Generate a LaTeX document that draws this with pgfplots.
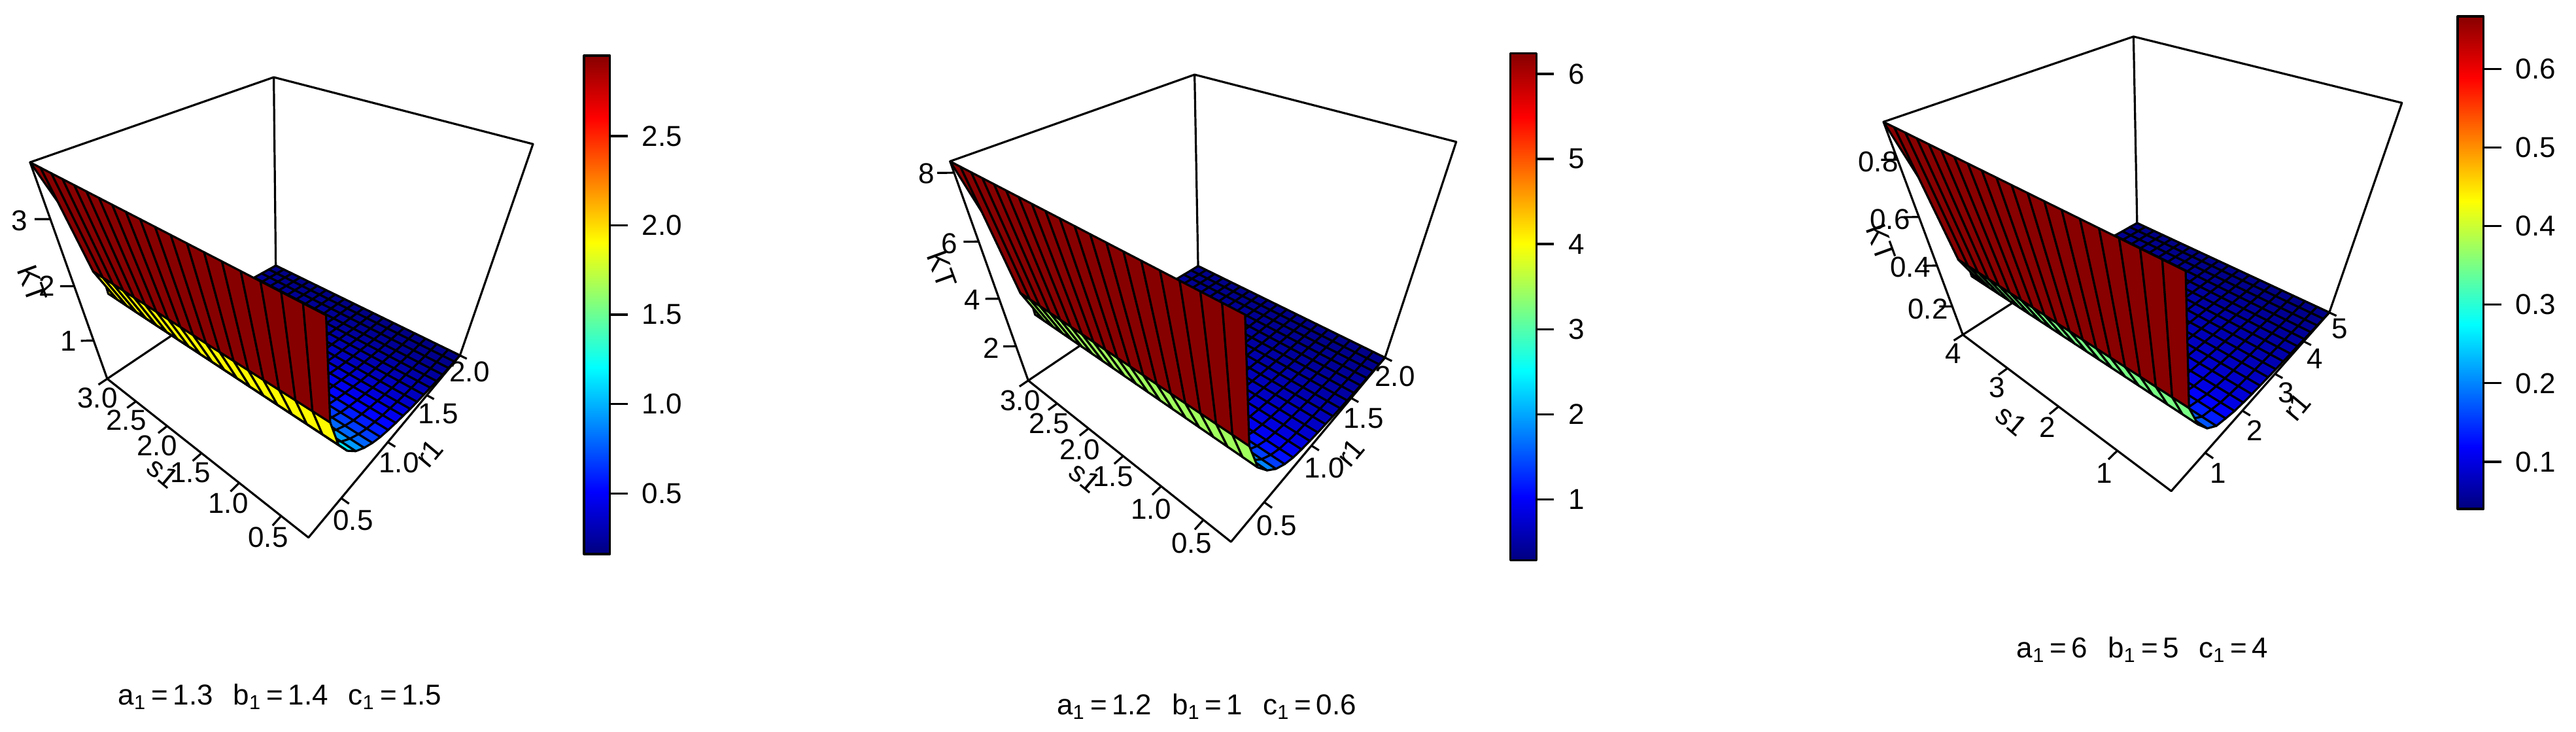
\documentclass[border=0pt]{standalone}
\usepackage{fontspec}
\setmainfont{Liberation Sans}
\usepackage{pgfplots}
\usepackage{pgfplotstable}
\pgfplotsset{compat=1.18}

% canvas is in reference pixels, 1 px = .25pt
% surface colormaps run on past the colour bar top, so the tall wall stays dark red
\pgfplotsset{
  colormap={jetr}{rgb255=(0,0,127) rgb255=(0,0,255) rgb255=(0,127,255) rgb255=(0,255,255)
    rgb255=(127,255,127) rgb255=(255,255,0) rgb255=(255,127,0) rgb255=(255,0,0) rgb255=(135,0,0)},
  colormap={jeta}{rgb255(0pt)=(0,0,127) rgb255(99pt)=(0,0,255) rgb255(197pt)=(0,127,255) rgb255(296pt)=(0,255,255)
    rgb255(394pt)=(127,255,127) rgb255(493pt)=(255,255,0) rgb255(591pt)=(255,127,0) rgb255(690pt)=(255,0,0) rgb255(788pt)=(135,0,0) rgb255(1000pt)=(135,0,0)},
  colormap={jetb}{rgb255(0pt)=(0,0,127) rgb255(93pt)=(0,0,255) rgb255(186pt)=(0,127,255) rgb255(278pt)=(0,255,255)
    rgb255(371pt)=(127,255,127) rgb255(464pt)=(255,255,0) rgb255(557pt)=(255,127,0) rgb255(650pt)=(255,0,0) rgb255(742pt)=(135,0,0) rgb255(1000pt)=(135,0,0)},
  colormap={jetc}{rgb255(0pt)=(0,0,127) rgb255(90pt)=(0,0,255) rgb255(179pt)=(0,127,255) rgb255(269pt)=(0,255,255)
    rgb255(358pt)=(127,255,127) rgb255(448pt)=(255,255,0) rgb255(537pt)=(255,127,0) rgb255(627pt)=(255,0,0) rgb255(717pt)=(135,0,0) rgb255(1000pt)=(135,0,0)},
  panel/.style={at={(0,0)},anchor=south west,scale only axis,width=984.75pt,height=279.5pt,
    xmin=0,xmax=3939,ymin=0,ymax=1118,y dir=reverse,hide axis,clip=false,
    unbounded coords=jump},
  wire/.style={surf,shader=faceted,faceted color=black,line width=.8pt,mesh/rows=20,mesh/cols=20,line join=round},
  bar/.style={anchor=south west,scale only axis,xmin=0,xmax=1,xtick=\empty,ytick pos=right,
    tick align=outside,major tick length=6.75pt,axis line style={line width=.8pt},
    tick style={line width=.8pt,black},colormap name=jetr,axis on top,clip=true,
    tick label style={font=\lbl},
    yticklabel style={/pgf/number format/assume math mode=true,xshift=2pt}},
}
\newcommand\lbl{\fontsize{11}{13}\selectfont}
\tikzset{lab/.style={font=\lbl,inner sep=0pt,anchor=center}}
\newcommand\lab[3]{\node[lab] at (axis cs:#1,#2) {#3};}
\newcommand\rot[4]{\node[lab,rotate=#3] at (axis cs:#1,#2) {#4};}
\newcommand\Uc{(1-mod(\coordindex,20)/19)}
\newcommand\Vc{(1-floor(\coordindex/20)/19)}
\newcommand\capt[3]{a\textsubscript{1}\,=\,#1\hspace{.7em}b\textsubscript{1}\,=\,#2\hspace{.7em}c\textsubscript{1}\,=\,#3}

% box edges in box units
\pgfplotstableread{
u v w
0 1 0
0 1 1
1 1 1
1 0 1
1 0 0
0 0 0
0 1 0
1 1 0
1 0 0
nan nan nan
1 1 1
1 1 0
}\boxedges

\begin{document}
\begin{tikzpicture}[line join=round,
  declare function={
    ax(\u,\v,\w)=(471.7-256.81*\u+496.5*\v-173.07*\w)/(1+.31031*\u+.37666*\v-.40104*\w);
    ay(\u,\v,\w)=(821.7-63.03*\u-73.76*\v-533.1*\w)/(1+.31031*\u+.37666*\v-.40104*\w);
    bx(\u,\v,\w)=1500+(382.3-287.35*\u+463.84*\v-138.35*\w)/(1+.31328*\u+.36983*\v-.39585*\w);
    by(\u,\v,\w)=(828.3-64.37*\u-79.4*\v-537.7*\w)/(1+.31328*\u+.36983*\v-.39585*\w);
    cx(\u,\v,\w)=2800+(520-256.69*\u+518.73*\v-189.96*\w)/(1+.30804*\u+.3637*\v-.39112*\w);
    cy(\u,\v,\w)=(750.7-81.38*\u-99.26*\v-498.5*\w)/(1+.30804*\u+.3637*\v-.39112*\w);
  }]
\useasboundingbox (0,0) rectangle (984.75pt,279.5pt);

% ---- panel 1
\begin{axis}[panel,colormap name=jeta,point meta min=.16,point meta max=3.7]
\addplot[black,line width=.8pt] table[x expr={ax(\thisrow{u},\thisrow{v},\thisrow{w})},y expr={ay(\thisrow{u},\thisrow{v},\thisrow{w})}] \boxedges;
\addplot[wire,point meta=\thisrow{z}] table[x expr={ax(\Uc,\Vc,(\thisrow{z}-.17)/3.53)},y expr={ay(\Uc,\Vc,(\thisrow{z}-.17)/3.53)}] {
z
0.17
0.17
0.17
0.17
0.17
0.17
0.17
0.17
0.17
0.17
0.17
0.17
0.17
0.17
0.17
0.17
0.17
0.17
0.17
0.17
0.19
0.19
0.19
0.19
0.19
0.19
0.19
0.19
0.19
0.19
0.19
0.19
0.19
0.19
0.19
0.19
0.19
0.19
0.19
0.19
0.21
0.21
0.21
0.21
0.21
0.21
0.21
0.21
0.21
0.21
0.21
0.21
0.21
0.21
0.21
0.21
0.21
0.21
0.21
0.21
0.23
0.23
0.23
0.23
0.23
0.23
0.23
0.23
0.23
0.23
0.23
0.23
0.23
0.23
0.23
0.23
0.23
0.23
0.23
0.23
0.26
0.26
0.26
0.26
0.26
0.26
0.26
0.26
0.26
0.26
0.26
0.26
0.26
0.26
0.26
0.26
0.26
0.26
0.26
0.26
0.29
0.29
0.29
0.29
0.29
0.29
0.29
0.29
0.29
0.29
0.29
0.29
0.29
0.29
0.29
0.29
0.29
0.29
0.29
0.29
0.32
0.32
0.32
0.32
0.32
0.32
0.32
0.32
0.32
0.32
0.32
0.32
0.32
0.32
0.32
0.32
0.32
0.32
0.32
0.32
0.35
0.35
0.35
0.35
0.35
0.35
0.35
0.35
0.35
0.35
0.35
0.35
0.35
0.35
0.35
0.35
0.35
0.35
0.35
0.35
0.39
0.39
0.39
0.39
0.39
0.39
0.39
0.39
0.39
0.39
0.39
0.39
0.39
0.39
0.39
0.39
0.39
0.39
0.39
0.39
0.44
0.44
0.44
0.44
0.44
0.44
0.44
0.44
0.44
0.44
0.44
0.44
0.44
0.44
0.44
0.44
0.44
0.44
0.44
0.44
0.49
0.49
0.49
0.49
0.49
0.49
0.49
0.49
0.49
0.49
0.49
0.49
0.49
0.49
0.49
0.49
0.49
0.49
0.49
0.49
0.55
0.55
0.55
0.55
0.55
0.55
0.55
0.55
0.55
0.55
0.55
0.55
0.55
0.55
0.55
0.55
0.55
0.55
0.55
0.55
0.62
0.62
0.62
0.62
0.62
0.62
0.62
0.62
0.62
0.62
0.62
0.62
0.62
0.62
0.62
0.62
0.62
0.62
0.62
0.62
0.72
0.72
0.72
0.72
0.72
0.72
0.72
0.72
0.72
0.72
0.72
0.72
0.72
0.72
0.72
0.72
0.72
0.72
0.72
0.72
0.85
0.85
0.85
0.85
0.85
0.85
0.85
0.85
0.85
0.85
0.85
0.85
0.85
0.85
0.85
0.85
0.85
0.85
0.85
0.85
1.02
1.02
1.02
1.02
1.02
1.02
1.02
1.02
1.02
1.02
1.02
1.02
1.02
1.02
1.02
1.02
1.02
1.02
1.02
1.02
1.27
1.27
1.27
1.27
1.27
1.27
1.27
1.27
1.27
1.27
1.27
1.27
1.27
1.27
1.27
1.27
1.27
1.27
1.27
1.27
1.62
1.62
1.62
1.62
1.62
1.62
1.62
1.62
1.62
1.62
1.62
1.62
1.62
1.62
1.62
1.62
1.62
1.62
1.62
1.62
2.22
2.22
2.22
2.22
2.22
2.22
2.22
2.22
2.22
2.22
2.22
2.22
2.22
2.22
2.22
2.22
2.22
2.22
2.22
2.22
3.70
3.70
3.70
3.70
3.70
3.70
3.70
3.70
3.70
3.70
3.70
3.70
3.70
3.70
3.70
3.70
3.70
3.70
3.70
3.70
};
\addplot[black,line width=.8pt] table[row sep=\\,x expr={ax(\thisrow{u},\thisrow{v},\thisrow{w})},y expr={ay(\thisrow{u},\thisrow{v},\thisrow{w})}] {
u v w\\
.107 0 0\\.107 -.04 0\\nan nan nan\\.286 0 0\\.286 -.04 0\\nan nan nan\\.464 0 0\\.464 -.04 0\\nan nan nan\\.643 0 0\\.643 -.04 0\\nan nan nan\\.821 0 0\\.821 -.04 0\\nan nan nan\\1 0 0\\1 -.04 0\\nan nan nan\\
0 .167 0\\-.03 .167 0\\nan nan nan\\0 .444 0\\-.03 .444 0\\nan nan nan\\0 .722 0\\-.03 .722 0\\nan nan nan\\0 1 0\\-.03 1 0\\nan nan nan\\
1 0 .2355\\1.035 -.03 .2355\\nan nan nan\\1 0 .5187\\1.035 -.03 .5187\\nan nan nan\\1 0 .802\\1.035 -.03 .802\\
};
\lab{30}{337}{3}\lab{72}{437}{2}\lab{105}{521}{1}
\lab{149}{608}{3.0}\lab{193}{642}{2.5}\lab{240}{681}{2.0}\lab{291}{723}{1.5}\lab{349}{769}{1.0}\lab{410}{821}{0.5}
\lab{540}{795}{0.5}\lab{610}{707}{1.0}\lab{670}{633}{1.5}\lab{718}{568}{2.0}
\rot{49}{434}{-70}{KT}\rot{249}{723}{-40}{s1}\rot{656}{693}{50}{r1}
\lab{428}{1065}{\capt{1.3}{1.4}{1.5}}
\end{axis}

% ---- panel 2
\begin{axis}[panel,colormap name=jetb,point meta min=.28,point meta max=8.31]
\addplot[black,line width=.8pt] table[x expr={bx(\thisrow{u},\thisrow{v},\thisrow{w})},y expr={by(\thisrow{u},\thisrow{v},\thisrow{w})}] \boxedges;
\addplot[wire,point meta=\thisrow{z}] table[x expr={bx(\Uc,\Vc,(\thisrow{z}-.325)/7.985)},y expr={by(\Uc,\Vc,(\thisrow{z}-.325)/7.985)}] {
z
0.325
0.325
0.325
0.325
0.325
0.325
0.325
0.325
0.325
0.325
0.325
0.325
0.325
0.325
0.325
0.325
0.325
0.325
0.325
0.325
0.35
0.35
0.35
0.35
0.35
0.35
0.35
0.35
0.35
0.35
0.35
0.35
0.35
0.35
0.35
0.35
0.35
0.35
0.35
0.35
0.38
0.38
0.38
0.38
0.38
0.38
0.38
0.38
0.38
0.38
0.38
0.38
0.38
0.38
0.38
0.38
0.38
0.38
0.38
0.38
0.41
0.41
0.41
0.41
0.41
0.41
0.41
0.41
0.41
0.41
0.41
0.41
0.41
0.41
0.41
0.41
0.41
0.41
0.41
0.41
0.44
0.44
0.44
0.44
0.44
0.44
0.44
0.44
0.44
0.44
0.44
0.44
0.44
0.44
0.44
0.44
0.44
0.44
0.44
0.44
0.47
0.47
0.47
0.47
0.47
0.47
0.47
0.47
0.47
0.47
0.47
0.47
0.47
0.47
0.47
0.47
0.47
0.47
0.47
0.47
0.51
0.51
0.51
0.51
0.51
0.51
0.51
0.51
0.51
0.51
0.51
0.51
0.51
0.51
0.51
0.51
0.51
0.51
0.51
0.51
0.55
0.55
0.55
0.55
0.55
0.55
0.55
0.55
0.55
0.55
0.55
0.55
0.55
0.55
0.55
0.55
0.55
0.55
0.55
0.55
0.60
0.60
0.60
0.60
0.60
0.60
0.60
0.60
0.60
0.60
0.60
0.60
0.60
0.60
0.60
0.60
0.60
0.60
0.60
0.60
0.66
0.66
0.66
0.66
0.66
0.66
0.66
0.66
0.66
0.66
0.66
0.66
0.66
0.66
0.66
0.66
0.66
0.66
0.66
0.66
0.72
0.72
0.72
0.72
0.72
0.72
0.72
0.72
0.72
0.72
0.72
0.72
0.72
0.72
0.72
0.72
0.72
0.72
0.72
0.72
0.79
0.79
0.79
0.79
0.79
0.79
0.79
0.79
0.79
0.79
0.79
0.79
0.79
0.79
0.79
0.79
0.79
0.79
0.79
0.79
0.88
0.88
0.88
0.88
0.88
0.88
0.88
0.88
0.88
0.88
0.88
0.88
0.88
0.88
0.88
0.88
0.88
0.88
0.88
0.88
1.00
1.00
1.00
1.00
1.00
1.00
1.00
1.00
1.00
1.00
1.00
1.00
1.00
1.00
1.00
1.00
1.00
1.00
1.00
1.00
1.22
1.22
1.22
1.22
1.22
1.22
1.22
1.22
1.22
1.22
1.22
1.22
1.22
1.22
1.22
1.22
1.22
1.22
1.22
1.22
1.55
1.55
1.55
1.55
1.55
1.55
1.55
1.55
1.55
1.55
1.55
1.55
1.55
1.55
1.55
1.55
1.55
1.55
1.55
1.55
2.05
2.05
2.05
2.05
2.05
2.05
2.05
2.05
2.05
2.05
2.05
2.05
2.05
2.05
2.05
2.05
2.05
2.05
2.05
2.05
2.75
2.75
2.75
2.75
2.75
2.75
2.75
2.75
2.75
2.75
2.75
2.75
2.75
2.75
2.75
2.75
2.75
2.75
2.75
2.75
4.17
4.17
4.17
4.17
4.17
4.17
4.17
4.17
4.17
4.17
4.17
4.17
4.17
4.17
4.17
4.17
4.17
4.17
4.17
4.17
8.31
8.31
8.31
8.31
8.31
8.31
8.31
8.31
8.31
8.31
8.31
8.31
8.31
8.31
8.31
8.31
8.31
8.31
8.31
8.31
};
\addplot[black,line width=.8pt] table[row sep=\\,x expr={bx(\thisrow{u},\thisrow{v},\thisrow{w})},y expr={by(\thisrow{u},\thisrow{v},\thisrow{w})}] {
u v w\\
.107 0 0\\.107 -.04 0\\nan nan nan\\.286 0 0\\.286 -.04 0\\nan nan nan\\.464 0 0\\.464 -.04 0\\nan nan nan\\.643 0 0\\.643 -.04 0\\nan nan nan\\.821 0 0\\.821 -.04 0\\nan nan nan\\1 0 0\\1 -.04 0\\nan nan nan\\
0 .167 0\\-.03 .167 0\\nan nan nan\\0 .444 0\\-.03 .444 0\\nan nan nan\\0 .722 0\\-.03 .722 0\\nan nan nan\\0 1 0\\-.03 1 0\\nan nan nan\\
1 0 .2097\\1.035 -.03 .2097\\nan nan nan\\1 0 .46\\1.035 -.03 .46\\nan nan nan\\1 0 .7125\\1.035 -.03 .7125\\nan nan nan\\1 0 .963\\1.035 -.03 .963\\
};
\lab{1417}{265}{8}\lab{1452}{372}{6}\lab{1487}{458}{4}\lab{1516}{532}{2}
\lab{1560}{612}{3.0}\lab{1604}{647}{2.5}\lab{1651}{687}{2.0}\lab{1702}{729}{1.5}\lab{1760}{778}{1.0}\lab{1822}{830}{0.5}
\lab{1952}{803}{0.5}\lab{2025}{715}{1.0}\lab{2085}{640}{1.5}\lab{2133}{575}{2.0}
\rot{1440}{412}{-70}{KT}\rot{1659}{730}{-40}{s1}\rot{2065}{692}{50}{r1}
\lab{1845}{1080}{\capt{1.2}{1}{0.6}}
\end{axis}

% ---- panel 3
\begin{axis}[panel,colormap name=jetc,point meta min=.04,point meta max=.915]
\addplot[black,line width=.8pt] table[x expr={cx(\thisrow{u},\thisrow{v},\thisrow{w})},y expr={cy(\thisrow{u},\thisrow{v},\thisrow{w})}] \boxedges;
\addplot[wire,point meta=\thisrow{z}] table[x expr={cx(\Uc,\Vc,(\thisrow{z}-.043)/.872)},y expr={cy(\Uc,\Vc,(\thisrow{z}-.043)/.872)}] {
z
0.043
0.043
0.043
0.043
0.043
0.043
0.043
0.043
0.043
0.043
0.043
0.043
0.043
0.043
0.043
0.043
0.043
0.043
0.043
0.043
0.047
0.047
0.047
0.047
0.047
0.047
0.047
0.047
0.047
0.047
0.047
0.047
0.047
0.047
0.047
0.047
0.047
0.047
0.047
0.047
0.050
0.050
0.050
0.050
0.050
0.050
0.050
0.050
0.050
0.050
0.050
0.050
0.050
0.050
0.050
0.050
0.050
0.050
0.050
0.050
0.054
0.054
0.054
0.054
0.054
0.054
0.054
0.054
0.054
0.054
0.054
0.054
0.054
0.054
0.054
0.054
0.054
0.054
0.054
0.054
0.058
0.058
0.058
0.058
0.058
0.058
0.058
0.058
0.058
0.058
0.058
0.058
0.058
0.058
0.058
0.058
0.058
0.058
0.058
0.058
0.062
0.062
0.062
0.062
0.062
0.062
0.062
0.062
0.062
0.062
0.062
0.062
0.062
0.062
0.062
0.062
0.062
0.062
0.062
0.062
0.066
0.066
0.066
0.066
0.066
0.066
0.066
0.066
0.066
0.066
0.066
0.066
0.066
0.066
0.066
0.066
0.066
0.066
0.066
0.066
0.070
0.070
0.070
0.070
0.070
0.070
0.070
0.070
0.070
0.070
0.070
0.070
0.070
0.070
0.070
0.070
0.070
0.070
0.070
0.070
0.074
0.074
0.074
0.074
0.074
0.074
0.074
0.074
0.074
0.074
0.074
0.074
0.074
0.074
0.074
0.074
0.074
0.074
0.074
0.074
0.079
0.079
0.079
0.079
0.079
0.079
0.079
0.079
0.079
0.079
0.079
0.079
0.079
0.079
0.079
0.079
0.079
0.079
0.079
0.079
0.084
0.084
0.084
0.084
0.084
0.084
0.084
0.084
0.084
0.084
0.084
0.084
0.084
0.084
0.084
0.084
0.084
0.084
0.084
0.084
0.090
0.090
0.090
0.090
0.090
0.090
0.090
0.090
0.090
0.090
0.090
0.090
0.090
0.090
0.090
0.090
0.090
0.090
0.090
0.090
0.098
0.098
0.098
0.098
0.098
0.098
0.098
0.098
0.098
0.098
0.098
0.098
0.098
0.098
0.098
0.098
0.098
0.098
0.098
0.098
0.108
0.108
0.108
0.108
0.108
0.108
0.108
0.108
0.108
0.108
0.108
0.108
0.108
0.108
0.108
0.108
0.108
0.108
0.108
0.108
0.126
0.126
0.126
0.126
0.126
0.126
0.126
0.126
0.126
0.126
0.126
0.126
0.126
0.126
0.126
0.126
0.126
0.126
0.126
0.126
0.146
0.146
0.146
0.146
0.146
0.146
0.146
0.146
0.146
0.146
0.146
0.146
0.146
0.146
0.146
0.146
0.146
0.146
0.146
0.146
0.196
0.196
0.196
0.196
0.196
0.196
0.196
0.196
0.196
0.196
0.196
0.196
0.196
0.196
0.196
0.196
0.196
0.196
0.196
0.196
0.280
0.280
0.280
0.280
0.280
0.280
0.280
0.280
0.280
0.280
0.280
0.280
0.280
0.280
0.280
0.280
0.280
0.280
0.280
0.280
0.419
0.419
0.419
0.419
0.419
0.419
0.419
0.419
0.419
0.419
0.419
0.419
0.419
0.419
0.419
0.419
0.419
0.419
0.419
0.419
0.915
0.915
0.915
0.915
0.915
0.915
0.915
0.915
0.915
0.915
0.915
0.915
0.915
0.915
0.915
0.915
0.915
0.915
0.915
0.915
};
\addplot[black,line width=.8pt] table[row sep=\\,x expr={cx(\thisrow{u},\thisrow{v},\thisrow{w})},y expr={cy(\thisrow{u},\thisrow{v},\thisrow{w})}] {
u v w\\
.2105 0 0\\.2105 -.04 0\\nan nan nan\\.4737 0 0\\.4737 -.04 0\\nan nan nan\\.7368 0 0\\.7368 -.04 0\\nan nan nan\\1 0 0\\1 -.04 0\\nan nan nan\\
0 .1667 0\\-.03 .1667 0\\nan nan nan\\0 .375 0\\-.03 .375 0\\nan nan nan\\0 .5833 0\\-.03 .5833 0\\nan nan nan\\0 .7917 0\\-.03 .7917 0\\nan nan nan\\0 1 0\\-.03 1 0\\nan nan nan\\
1 0 .1799\\1.035 -.03 .1799\\nan nan nan\\1 0 .4069\\1.035 -.03 .4069\\nan nan nan\\1 0 .6383\\1.035 -.03 .6383\\nan nan nan\\1 0 .8685\\1.035 -.03 .8685\\
};
\lab{2872}{247}{0.8}\lab{2890}{335}{0.6}\lab{2921}{408}{0.4}\lab{2948}{472}{0.2}
\lab{2987}{540}{4}\lab{3054}{592}{3}\lab{3131}{653}{2}\lab{3218}{723}{1}
\lab{3392}{723}{1}\lab{3448}{658}{2}\lab{3496}{600}{3}\lab{3540}{548}{4}\lab{3578}{503}{5}
\rot{2876}{371}{-70}{KT}\rot{3076}{643}{-40}{s1}\rot{3512}{622}{50}{r1}
\lab{3276}{993}{\capt{6}{5}{4}}
\end{axis}

% ---- colour bars
\begin{axis}[bar,at={(223.25pt,67.75pt)},width=9.875pt,height=190.5pt,ymin=.16,ymax=2.95,
  ytick={.5,1,1.5,2,2.5},yticklabel style={/pgf/number format/.cd,fixed,fixed zerofill,precision=1}]
\addplot[surf,shader=interp,mesh/cols=2,point meta=\thisrow{y}] table {
x y
0 .16
1 .16
0 2.95
1 2.95
};
\end{axis}
\begin{axis}[bar,at={(577.4pt,65.3pt)},width=9.9pt,height=193.75pt,ymin=.28,ymax=6.24,
  ytick={1,2,3,4,5,6}]
\addplot[surf,shader=interp,mesh/cols=2,point meta=\thisrow{y}] table {
x y
0 .28
1 .28
0 6.24
1 6.24
};
\end{axis}
\begin{axis}[bar,at={(939.5pt,85pt)},width=9.9pt,height=188.25pt,ymin=.04,ymax=.667,
  ytick={.1,.2,.3,.4,.5,.6},yticklabel style={/pgf/number format/.cd,fixed,fixed zerofill,precision=1}]
\addplot[surf,shader=interp,mesh/cols=2,point meta=\thisrow{y}] table {
x y
0 .04
1 .04
0 .667
1 .667
};
\end{axis}
\end{tikzpicture}
\end{document}
